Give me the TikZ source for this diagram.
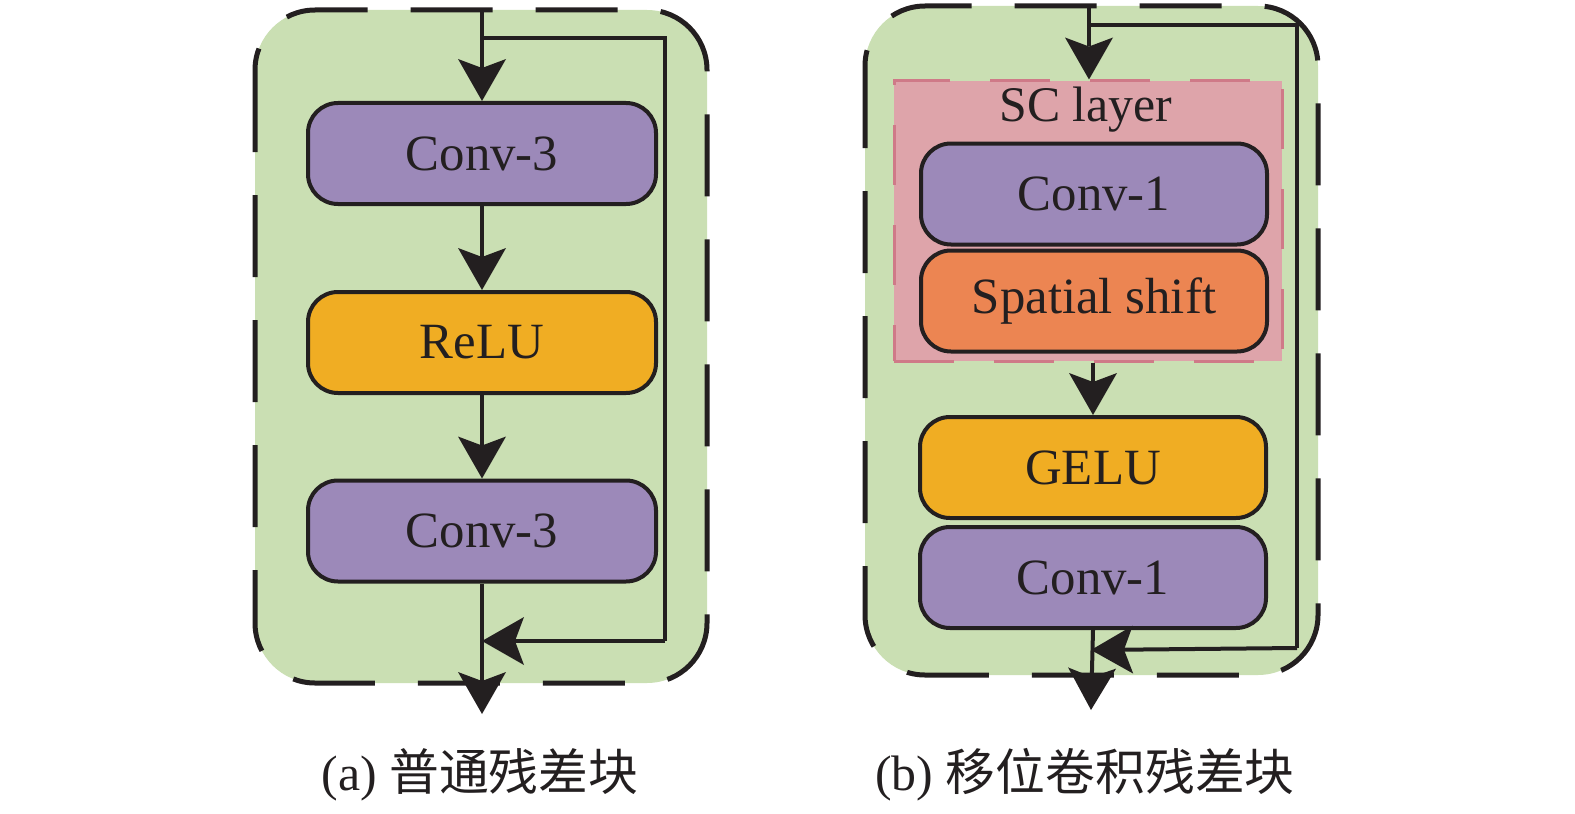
\documentclass[tikz,border=0pt]{standalone}
\usepackage{fontspec}
\setmainfont{Liberation Serif}
\newfontfamily\cjk{Noto Sans CJK SC}
\usetikzlibrary{arrows.meta}
\definecolor{pgreen}{HTML}{CADFB3}
\definecolor{ppurple}{HTML}{9C89B9}
\definecolor{pyellow}{HTML}{F0AD23}
\definecolor{porange}{HTML}{EC8552}
\definecolor{ppink}{HTML}{DEA4AA}
\definecolor{ppinkd}{HTML}{CF7A88}
\definecolor{pline}{HTML}{231F20}
\tikzset{
  blk/.style={draw=pline, line width=4bp, rounded corners=30bp, minimum width=348bp,
    minimum height=101bp, inner sep=0pt, font=\fontsize{51}{60}\selectfont, text=pline},
  conn/.style={draw=pline, line width=4bp, -{Stealth[length=42bp 0 0,width=48bp 0 0,inset=9bp 0 0,line width=0bp,fill=pline]}},
  wire/.style={draw=pline, line width=4bp},
  panel/.style={fill=pgreen, draw=pline, line width=5bp, dash pattern=on 82bp off 43bp, rounded corners=60bp},
  caplbl/.style={font=\fontsize{50}{60}\selectfont, text=pline, inner sep=0pt}
}
\begin{document}
\begin{tikzpicture}[x=1bp,y=-1bp]
\useasboundingbox (0,0) rectangle (1575,813);
% panels
\draw[panel] (255,10) rectangle (707,683);
\draw[panel] (865,6) rectangle (1318,675);
% ---------- panel a ----------
\coordinate (ain) at (482,10);
\coordinate (asplit) at (482,38);
\coordinate (ar1) at (665,38);
\coordinate (ar2) at (665,641);
\coordinate (ajoin) at (482,641);
\coordinate (aout) at (482,714);
\node[blk, fill=ppurple] (c3a) at (482,153.5) {Conv-3};
\node[blk, fill=pyellow] (relu) at (482,342.5) {ReLU};
\node[blk, fill=ppurple] (c3b) at (482,531) {Conv-3};
\draw[conn] (ain) -- (c3a.north);
\draw[conn] (c3a.south) -- (relu.north);
\draw[conn] (relu.south) -- (c3b.north);
\draw[conn] (c3b.south) -- (aout);
\draw[wire] (asplit) -- (ar1) -- (ar2);
\draw[conn] (ar2) -- (ajoin);
\node[caplbl] (capa) at (480,775) {(a) {\cjk 普通残差块}};
% ---------- panel b ----------
\coordinate (bin) at (1089,6);
\coordinate (bsplit) at (1089,25);
\coordinate (br1) at (1297,25);
\coordinate (br2) at (1297,648);
\coordinate (bjoin) at (1091,650);
\coordinate (bout) at (1091,710);
\node[draw=ppinkd, fill=ppink, line width=3bp, dash pattern=on 60bp off 40bp,
  minimum width=388bp, minimum height=280bp, inner sep=0pt] (sc) at (1088,221) {};
\node[caplbl] (sclbl) at (1086,110) {SC layer};
\node[blk, fill=ppurple, minimum width=346bp] (c1a) at (1094,194) {Conv-1};
\node[blk, fill=porange, minimum width=346bp] (shift) at (1094,301) {Spatial shift};
\node[blk, fill=pyellow, minimum width=346bp] (gelu) at (1093,467.5) {GELU};
\node[blk, fill=ppurple, minimum width=346bp] (c1b) at (1093,577.5) {Conv-1};
\draw[conn] (bin) -- (sc.north -| bin);
\draw[conn] (sc.south -| gelu.north) -- (gelu.north);
\draw[conn] (c1b.south) -- (bout);
\draw[wire] (bsplit) -- (br1) -- (br2);
\draw[conn] (br2) -- (bjoin);
\node[caplbl] (capb) at (1085,775) {(b) {\cjk 移位卷积残差块}};
\end{tikzpicture}
\end{document}
